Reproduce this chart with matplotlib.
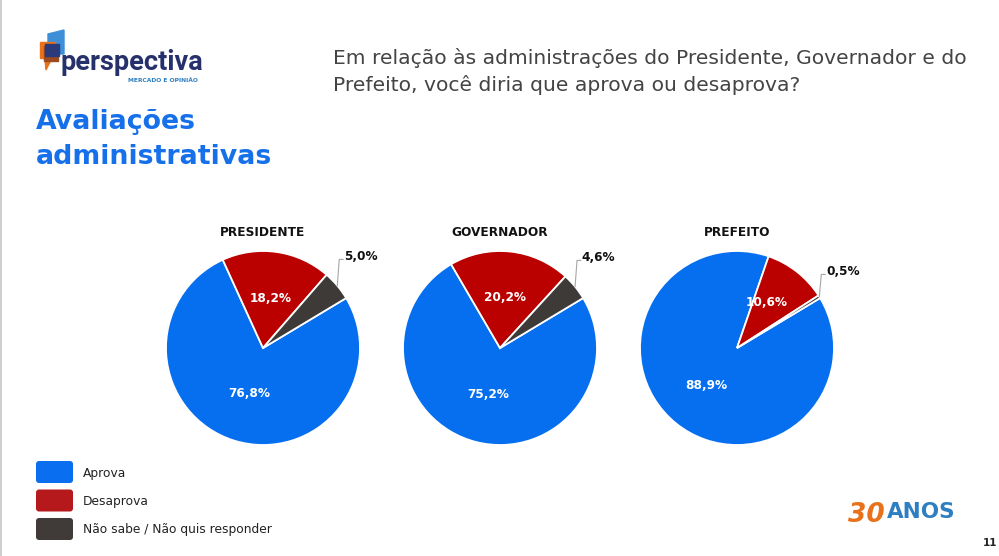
import matplotlib
matplotlib.use("Agg")
import matplotlib.pyplot as plt
import numpy as np
from matplotlib.patches import FancyBboxPatch, Polygon

# ---------------- data ----------------
categories = ["Aprova", "Desaprova", "Não sabe / Não quis responder"]
offices = ["PRESIDENTE", "GOVERNADOR", "PREFEITO"]
presidente = [76.8, 18.2, 5.0]
governador = [75.2, 20.2, 4.6]
prefeito = [88.9, 10.6, 0.5]
series = [presidente, governador, prefeito]

title_lines = ["Avaliações", "administrativas"]
question_lines = ["Em relação às administrações do Presidente, Governador e do",
                  "Prefeito, você diria que aprova ou desaprova?"]

pie_colors = ["#066ff0", "#bb0000", "#3e3a37"]
legend_colors = ["#0a6ef0", "#b5191b", "#403b38"]

W, H = 999, 556
fig = plt.figure(figsize=(W / 100, H / 100), dpi=100)
fig.patch.set_facecolor("white")

# overlay axes in pixel coordinates (y downwards)
ov = fig.add_axes([0, 0, 1, 1])
ov.set_xlim(0, W)
ov.set_ylim(H, 0)
ov.axis("off")

FONT = "DejaVu Sans"

# left border line
ov.plot([1, 1], [0, H], color="#cfcfcf", lw=1.5)

# ---- logo ----
ov.add_patch(Polygon([[48, 34], [64, 30], [64, 54], [48, 54]], closed=True, color="#3d8fd8", zorder=2))
ov.add_patch(Polygon([[40, 42], [55, 42], [55, 58], [40, 58]], closed=True, color="#e8721c", zorder=2))
ov.add_patch(Polygon([[44, 46], [58, 46], [58, 61], [44, 61]], closed=True, color="#9a4a1e", zorder=3))
ov.add_patch(Polygon([[45, 44], [59, 44], [59, 56], [45, 56]], closed=True, color="#2a3a7a", zorder=4))
ov.add_patch(Polygon([[45, 60], [51, 60], [46, 70]], closed=True, color="#e8721c", zorder=2))
ov.text(61, 63, "perspectiva", fontsize=19.5, fontweight="bold", color="#26306b",
        family="Roboto", ha="left", va="center")
ov.text(198, 80.5, "MERCADO E OPINIÃO", fontsize=4.3, fontweight="bold", color="#2d7fc1",
        family=FONT, ha="right", va="center")

# ---- title ----
for i, line in enumerate(title_lines):
    ov.text(36, 122 + i * 35, line, fontsize=19.3, fontweight="bold", color="#1670ea",
            family=FONT, ha="left", va="center")

# ---- question ----
for i, line in enumerate(question_lines):
    ov.text(333, 58 + i * 27, line, fontsize=14.6, color="#444444",
            family=FONT, ha="left", va="center")

# ---- pies ----
centers = [(263, 348), (500, 348), (737, 348)]
R = 97
L = 1.6
for k, (vals, (cx, cy)) in enumerate(zip(series, centers)):
    ax = fig.add_axes([(cx - L * R) / W, (H - cy - L * R) / H, 2 * L * R / W, 2 * L * R / H])
    wedges, _ = ax.pie(vals, colors=pie_colors, startangle=31, counterclock=False,
                       radius=1.0, wedgeprops=dict(edgecolor="white", linewidth=1.3))
    ax.set_xlim(-L, L)
    ax.set_ylim(-L, L)
    ax.set_aspect("equal")
    ax.axis("off")
    for j, (w, v) in enumerate(zip(wedges, vals)):
        mid = np.deg2rad((w.theta1 + w.theta2) / 2)
        lab = f"{v:.1f}".replace(".", ",") + "%"
        if j < 2:
            d = [0.49, 0.52][j] if k < 2 else [0.5, 0.56][j]
            if k == 2 and j == 1:
                mid = mid + np.deg2rad(5)
            ax.text(d * np.cos(mid), d * np.sin(mid), lab, color="white", fontsize=8.7,
                    fontweight="bold", family=FONT, ha="center", va="center")
        else:
            ex, ey = np.cos(mid), np.sin(mid)
            ty = ey + (0.27 if k < 2 else 0.23)
            tx = ex + 0.07
            ax.plot([ex, ex + 0.02, tx - 0.01], [ey, ty, ty], color="#a6a6a6", lw=0.8)
            ax.text(tx, ty + 0.03, lab, color="#111111", fontsize=8.7, fontweight="bold",
                    family=FONT, ha="left", va="center")
    ov.text(cx, 232, offices[k], fontsize=8.7, fontweight="bold", color="#111111",
            family=FONT, ha="center", va="center")

# ---- legend ----
for i, (lab, col) in enumerate(zip(categories, legend_colors)):
    y0 = 461 + i * 28.5
    ov.add_patch(FancyBboxPatch((36, y0), 37, 22, boxstyle="round,pad=0,rounding_size=3",
                                facecolor=col, edgecolor="none"))
    ov.text(83, y0 + 12, lab, fontsize=8.8, color="#222222", family=FONT,
            ha="left", va="center")

# ---- 30 anos ----
ov.text(848, 515, "30", fontsize=19, fontweight="bold", style="italic", color="#e8721c",
        family=FONT, ha="left", va="center")
ov.text(887, 512, "ANOS", fontsize=15.5, fontweight="bold", color="#2d7fc1",
        family=FONT, ha="left", va="center")
ov.text(983, 543, "11", fontsize=7.5, fontweight="bold", color="#222222",
        family=FONT, ha="left", va="center")

fig.savefig("out.png", dpi=100)
